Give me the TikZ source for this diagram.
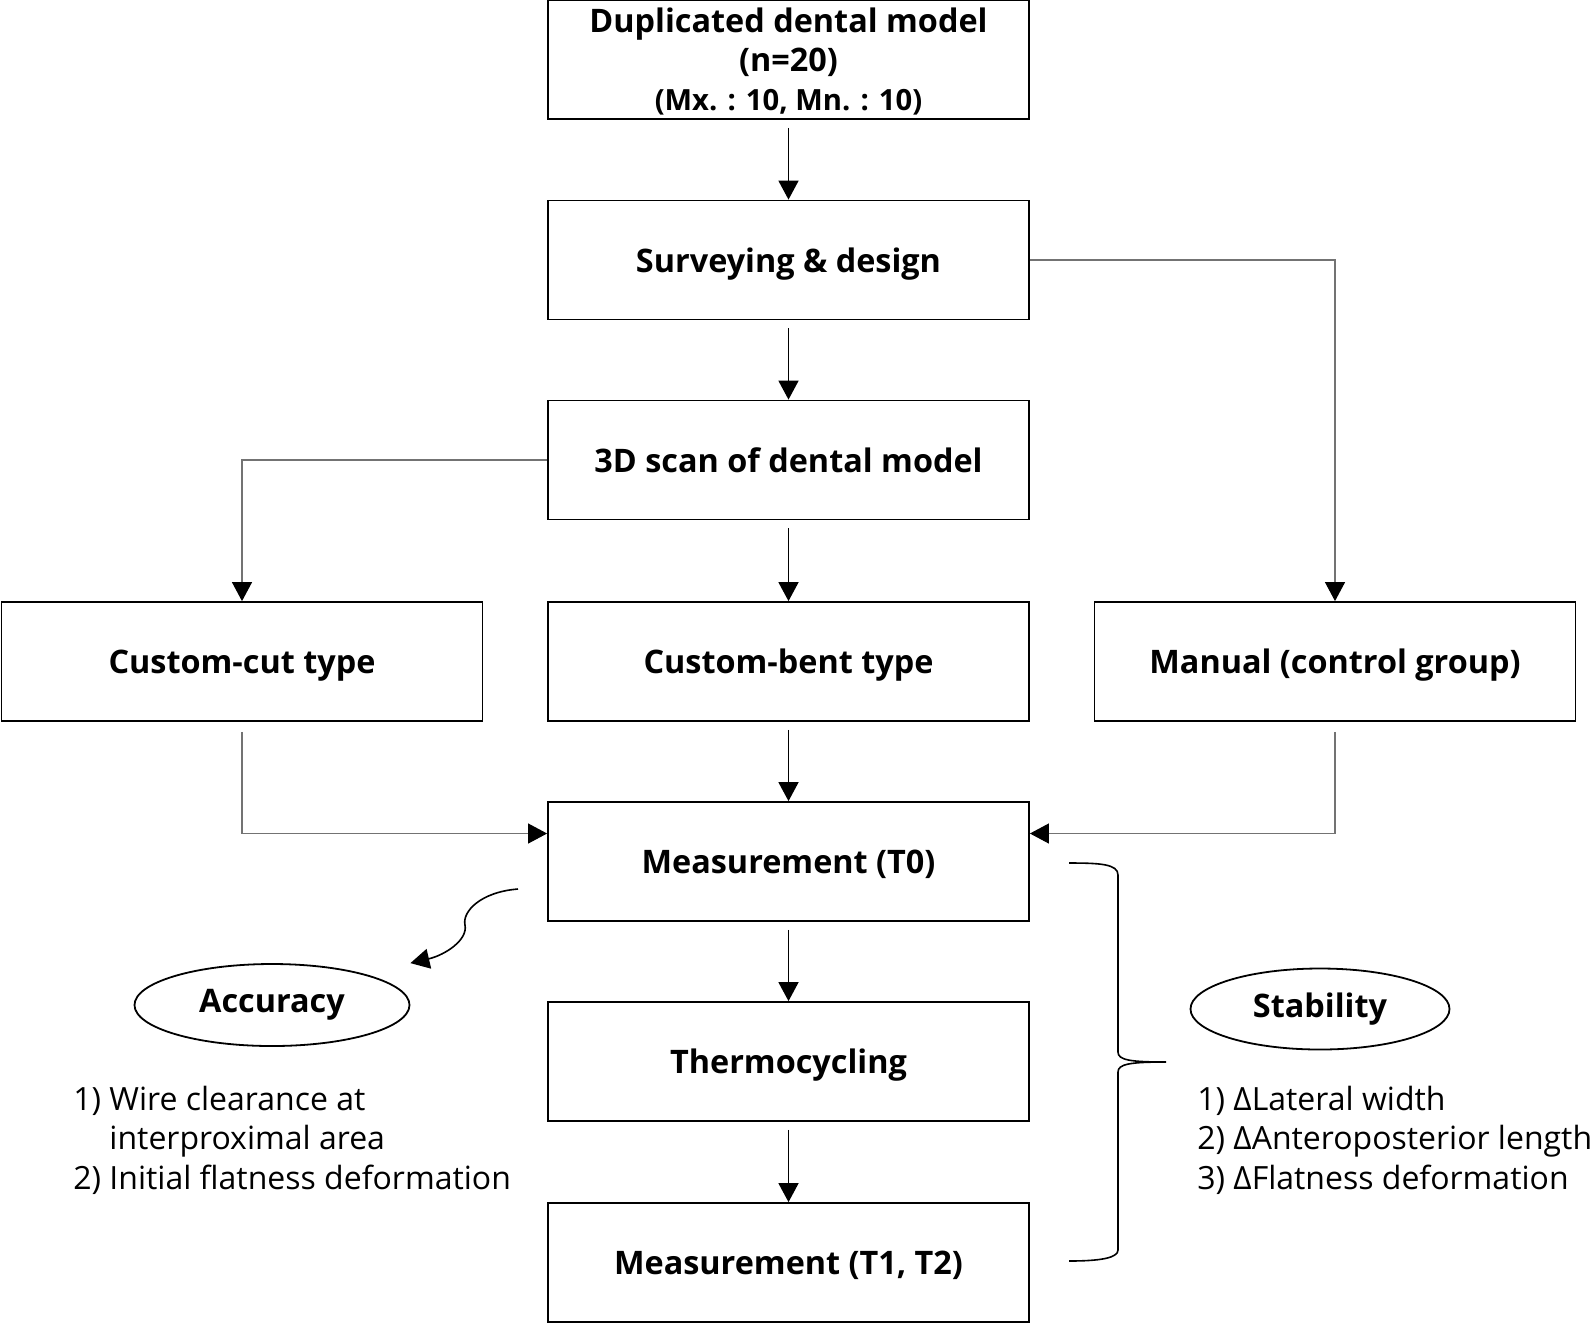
\documentclass[tikz,border=0pt]{standalone}
\usepackage{fontspec}
\setmainfont{Open Sans}
\usetikzlibrary{arrows.meta,shapes.geometric}

\begin{document}
\begin{tikzpicture}[x=0.5pt,y=-0.5pt,>={Triangle[length=9.5pt,width=10pt,color=black]},
box/.style={draw,line width=0.9pt,minimum width=240.5pt,minimum height=59.5pt,inner sep=0pt,text depth=0pt,align=center,font=\bfseries\fontsize{16.2}{19.5}\selectfont},
oval/.style={draw,ellipse,line width=0.9pt,inner sep=0pt,font=\bfseries\fontsize{16.2}{18}\selectfont},
flow/.style={->,line width=0.8pt,shorten <=4pt},
link/.style={->,draw=black!55,line width=0.55pt},
list/.style={anchor=base west,inner sep=0pt,align=left,font=\fontsize{16}{19.75}\selectfont}]

\useasboundingbox (0,0) rectangle (1594,1324);

\node[box] (dup) at (788.5,59.5) {Duplicated dental model\\(n=20)\\{\fontsize{14.6}{15}\selectfont (Mx. : 10, Mn. : 10)}};
\node[box] (survey) at (788.5,260) {Surveying \& design};
\node[box] (scan) at (788.5,460) {3D scan of dental model};
\node[box] (cut) at (242,661.5) {Custom-cut type};
\node[box] (bent) at (788.5,661.5) {Custom-bent type};
\node[box] (manual) at (1335,661.5) {Manual (control group)};
\node[box] (t0) at (788.5,861.5) {Measurement (T0)};
\node[box] (thermo) at (788.5,1061.5) {Thermocycling};
\node[box] (t12) at (788.5,1262.5) {Measurement (T1, T2)};

\node[oval,minimum width=137.5pt,minimum height=41pt] (acc) at (272,1005) {Accuracy};
\node[oval,minimum width=129.5pt,minimum height=40.5pt] (stab) at (1320,1009) {Stability};

\node[list] (acclist) at (73,1189) {1) Wire clearance at\\\hphantom{1) }interproximal area\\2) Initial flatness deformation};
\node[list] (stablist) at (1197,1189) {1) ΔLateral width\\2) ΔAnteroposterior length\\3) ΔFlatness deformation};

\draw[flow] (dup) -- (survey);
\draw[flow] (survey) -- (scan);
\draw[flow] (scan) -- (bent);
\draw[flow] (bent) -- (t0);
\draw[flow] (t0) -- (thermo);
\draw[flow] (thermo) -- (t12);

\draw[link] (survey.east) -| (manual.north);
\draw[link] (scan.west) -| (cut.north);
\draw[link] ([yshift=-5pt]cut.south) |- ([yshift=14pt]t0.west);
\draw[link] ([yshift=-5pt]manual.south) |- ([yshift=14pt]t0.east);

\coordinate (bend) at (518,889);
\draw[->,line width=0.8pt] (bend) .. controls (480,892) and (462,912) .. (465,925) .. controls (468,940) and (445,955) .. (acc.north -| acc.east);

\coordinate (btop) at (1069,863);
\coordinate (bbot) at (1069,1261);
\coordinate (btip) at (1166,1062);
\draw[line width=0.8pt] (btop) .. controls (1100,863) and (1118,864) .. (1118,875) -- (1118,1052) .. controls (1118,1060) and (1130,1062) .. (btip) .. controls (1130,1062) and (1118,1064) .. (1118,1072) -- (1118,1250) .. controls (1118,1258) and (1100,1261) .. (bbot);
\end{tikzpicture}
\end{document}
